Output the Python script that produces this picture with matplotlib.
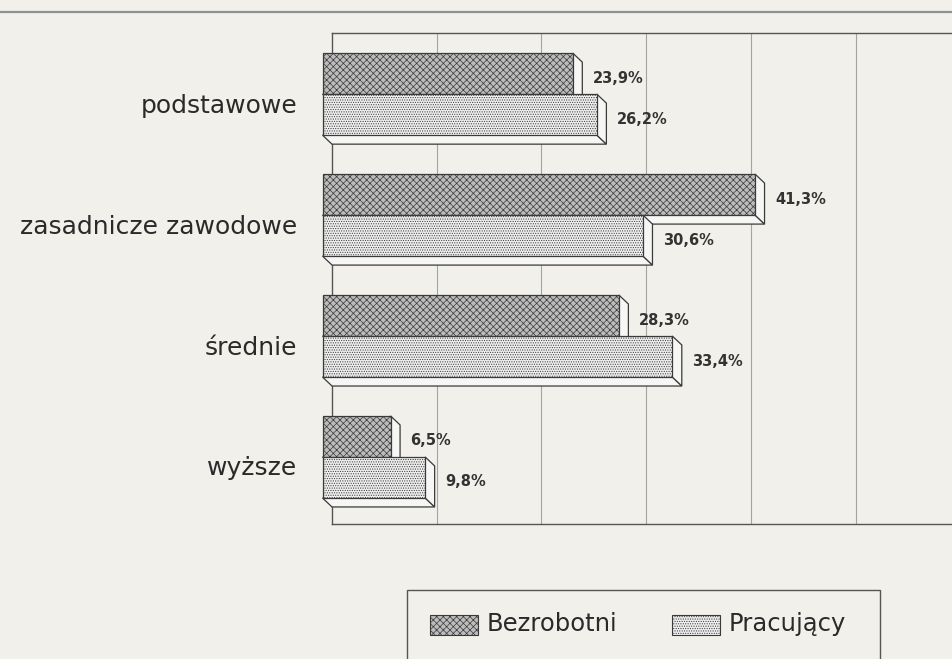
import numpy as np
import matplotlib
matplotlib.use("Agg")
import matplotlib.pyplot as plt
from matplotlib.patches import Rectangle, Polygon

categories = ["podstawowe", "zasadnicze zawodowe", "średnie", "wyższe"]
bezrobotni = [23.9, 41.3, 28.3, 6.5]
pracujacy = [26.2, 30.6, 33.4, 9.8]
series_names = ["Bezrobotni", "Pracujący"]

W, H = 952, 659
bg = "#f2f0ea"
plt.rcParams["font.family"] = ["DejaVu Sans"]
plt.rcParams["hatch.linewidth"] = 0.5

fig = plt.figure(figsize=(W / 100, H / 100), dpi=100, facecolor=bg)
# back wall of the chart
ax = fig.add_axes([332 / W, (H - 524) / H, 620 / W, 491 / H], facecolor=bg)
ax.set_xlim(0, 59.2)
ax.set_ylim(3.48, -0.58)

# 3d depth in data units (about 9 px)
px_x = 620 / 59.2
px_y = 491 / (3.48 + 0.58)
ddx = 9.5 / px_x
ddy = 9.0 / px_y
h = 41 / px_y

styles = [
    dict(facecolor="#bcbcbc", hatch="xxxxx", edgecolor="#3a3a3a"),
    dict(facecolor="#eeeeee", hatch=".......", edgecolor="#3a3a3a"),
]

ax.set_xticks(np.arange(10, 60, 10))
ax.grid(axis="x", color="#a4a4a4", lw=0.8)
ax.set_axisbelow(True)
ax.tick_params(axis="x", length=0, labelbottom=False)

for i in range(len(categories)):
    for s, vals in enumerate([bezrobotni, pracujacy]):
        v = vals[i]
        y0 = i - h + s * h  # top of bar (back plane)
        y1 = y0 + h
        # bottom face
        ax.add_patch(Polygon([(-ddx, y1 - ddy), (v - ddx, y1 - ddy), (v, y1), (0, y1)],
                             closed=True, facecolor="#f6f6f4", edgecolor="#3a3a3a", lw=0.9,
                             zorder=3 + s, clip_on=False))
        # right side face
        ax.add_patch(Polygon([(v - ddx, y0 - ddy), (v, y0), (v, y1), (v - ddx, y1 - ddy)],
                             closed=True, facecolor="#f6f6f4", edgecolor="#3a3a3a", lw=0.9,
                             zorder=3 + s, clip_on=False))
        # front face
        ax.add_patch(Rectangle((-ddx, y0 - ddy), v, h, lw=0.9, zorder=3 + s,
                               clip_on=False, **styles[s]))
        ax.annotate(f"{v:.1f}%".replace(".", ","), (v, y0 + h / 2 - ddy / 2),
                    xytext=(7.5, 0), textcoords="offset points", va="center", ha="left",
                    fontsize=10.5, fontweight="bold", color="#333333", zorder=6,
                    annotation_clip=False)

ax.set_yticks(range(len(categories)))
ax.set_yticklabels(categories, fontsize=18, color="#2a2a2a")
ax.tick_params(axis="y", length=0, pad=25)
for sp in ["top", "bottom", "left"]:
    ax.spines[sp].set_color("#555555")
    ax.spines[sp].set_linewidth(1.0)
ax.spines["right"].set_visible(False)

# rule at the top of the page
fig.add_artist(plt.Line2D([0, 1], [(H - 12) / H] * 2, color="#8c9194", lw=1.6))

# legend box (cut by the bottom edge)
fig.add_artist(Rectangle((407 / W, -0.05), (880 - 407) / W, (H - 590) / H + 0.05,
                         transform=fig.transFigure, facecolor=bg, edgecolor="#555555", lw=1.0))
leg_x = [430, 672]
for s, name in enumerate(series_names):
    fig.add_artist(Rectangle((leg_x[s] / W, (H - 635) / H), 48 / W, 20 / H,
                             transform=fig.transFigure, lw=0.8, **styles[s]))
    fig.text((leg_x[s] + 57) / W, (H - 624) / H, name, fontsize=17.5, va="center",
             ha="left", color="#2a2a2a")

fig.savefig("out.png", dpi=100, facecolor=bg)
